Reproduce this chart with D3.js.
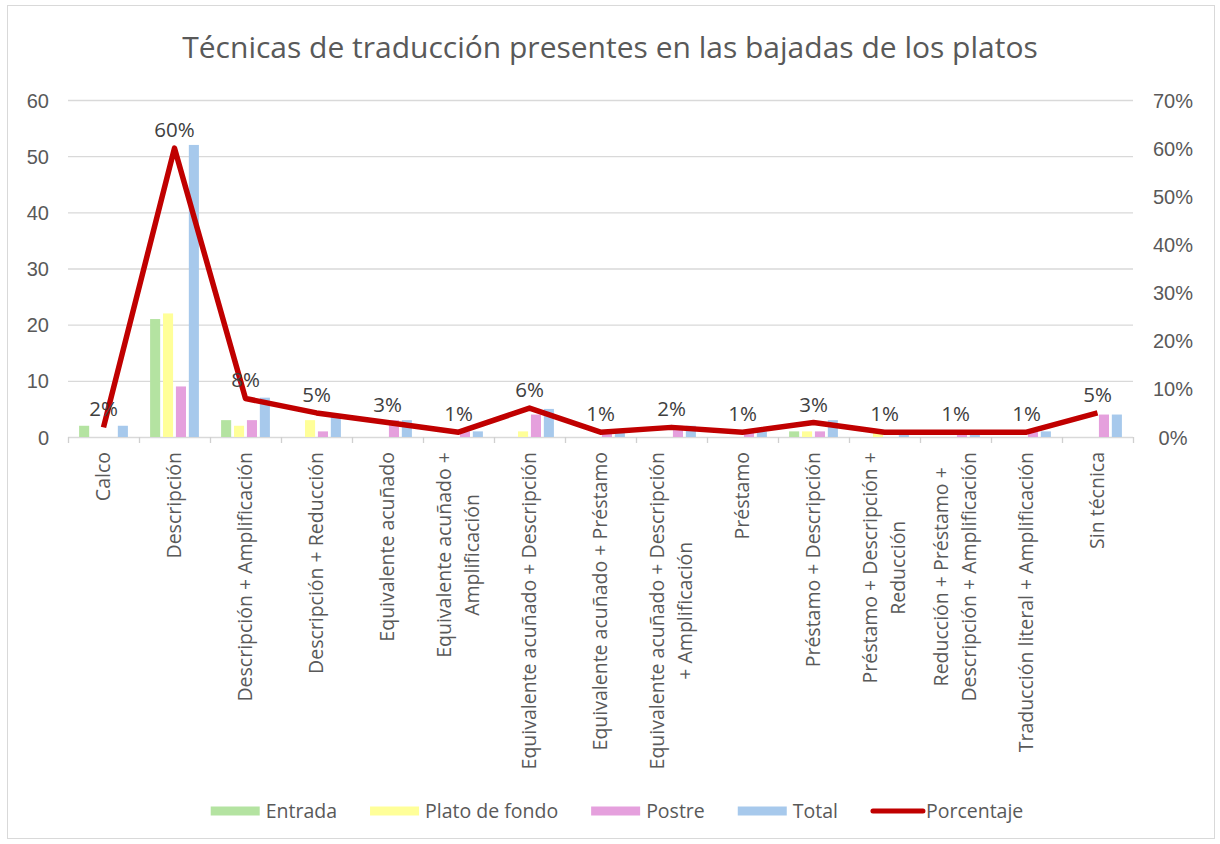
<!DOCTYPE html>
<html>
<head>
<meta charset="utf-8">
<script src="https://cdn.jsdelivr.net/npm/d3@7"></script>
<style>
  body { margin: 0; background: #fff; }
  svg { font-family: "Open Sans", sans-serif; }
  .axis text { fill: #595959; font-size: 20px; }
  .axis .domain { display: none; }
</style>
</head>
<body>
<svg id="chart"></svg>
<script>
// categories, each split in the lines it is written on
const categories = [
  ["Calco"],
  ["Descripción"],
  ["Descripción + Amplificación"],
  ["Descripción + Reducción"],
  ["Equivalente acuñado"],
  ["Equivalente acuñado +", "Amplificación"],
  ["Equivalente acuñado + Descripción"],
  ["Equivalente acuñado + Préstamo"],
  ["Equivalente acuñado + Descripción", "+ Amplificación"],
  ["Préstamo"],
  ["Préstamo + Descripción"],
  ["Préstamo + Descripción +", "Reducción"],
  ["Reducción + Préstamo +", "Descripción + Amplificación"],
  ["Traducción literal + Amplificación"],
  ["Sin técnica"]
]
const seriesNames = ["Entrada", "Plato de fondo", "Postre", "Total"]
const entrada = [2, 21, 3, 0, 0, 0, 0, 0, 0, 0, 1, 0, 0, 0, 0]
const platoDeFondo = [0, 22, 2, 3, 0, 0, 1, 0, 0, 0, 1, 1, 0, 0, 0]
const postre = [0, 9, 3, 1, 3, 1, 4, 1, 2, 1, 1, 0, 1, 1, 4]
const total = [2, 52, 7, 4, 3, 1, 5, 1, 2, 1, 3, 1, 1, 1, 4]
const porcentaje = [0.02, 0.60, 0.08, 0.05, 0.03, 0.01, 0.06, 0.01, 0.02, 0.01, 0.03, 0.01, 0.01, 0.01, 0.05]
const lineName = "Porcentaje"
const leftTicks = [0, 10, 20, 30, 40, 50, 60]
const rightTicks = [0, 0.1, 0.2, 0.3, 0.4, 0.5, 0.6, 0.7]
const title = "Técnicas de traducción presentes en las bajadas de los platos"

const colors = ["#b4e3a1", "#ffff99", "#e5a0dd", "#a7c9ec"]
const lineColor = "#c00000"

class ComboChart {
    constructor(_config) {
        this.config = {
            parentElement: _config.parentElement,
            containerWidth: _config.containerWidth || 1220,
            containerHeight: _config.containerHeight || 844,
            margin: {top: 100, right: 87, bottom: 407, left: 68}
        }
        this.initVis()
    }

    initVis() {
        let vis = this
        vis.width = vis.config.containerWidth - vis.config.margin.left - vis.config.margin.right
        vis.height = vis.config.containerHeight - vis.config.margin.top - vis.config.margin.bottom

        vis.svg = d3.select(vis.config.parentElement)
            .attr('width', vis.config.containerWidth)
            .attr('height', vis.config.containerHeight)

        // outer frame
        vis.svg.append('rect')
            .attr('x', 7.5).attr('y', 5.5)
            .attr('width', 1207).attr('height', 833)
            .attr('fill', 'none')
            .attr('stroke', '#d9d9d9')

        vis.svg.append('text')
            .attr('x', 610).attr('y', 58)
            .attr('text-anchor', 'middle')
            .attr('fill', '#595959')
            .style('font-size', '30px')
            .text(title)

        vis.chart = vis.svg.append('g')
            .attr('transform', `translate(${vis.config.margin.left},${vis.config.margin.top})`)

        vis.x0 = d3.scaleBand()
            .domain(d3.range(categories.length))
            .range([0, vis.width])
        vis.x1 = d3.scaleBand()
            .domain(seriesNames)
            .range([0, vis.x0.bandwidth()])
            .paddingInner(0.22)
            .paddingOuter(0.86)
        vis.xEdges = d3.scaleLinear()
            .domain([0, categories.length])
            .range([0, vis.width])
        vis.yLeft = d3.scaleLinear().domain([0, 60]).range([vis.height, 0])
        vis.yRight = d3.scaleLinear().domain([0, 0.7]).range([vis.height, 0])

        vis.renderVis()
    }

    renderVis() {
        let vis = this

        // gridlines
        vis.chart.append('g')
            .attr('class', 'grid')
            .call(d3.axisLeft(vis.yLeft).tickValues(leftTicks).tickSize(-vis.width).tickFormat(''))
            .call(g => g.select('.domain').remove())
            .selectAll('line').attr('stroke', '#d9d9d9').attr('stroke-width', 1.3)

        vis.chart.append('g')
            .attr('class', 'axis y-axis')
            .call(d3.axisLeft(vis.yLeft).tickValues(leftTicks).tickSize(0).tickPadding(19))
            .selectAll('text').attr('dy', '0.35em')

        vis.chart.append('g')
            .attr('class', 'axis y-axis-right')
            .attr('transform', `translate(${vis.width},0)`)
            .call(d3.axisRight(vis.yRight).tickValues(rightTicks).tickSize(0).tickFormat(d3.format('.0%')))
            .selectAll('text')
                .attr('x', 40)
                .attr('text-anchor', 'middle')
                .attr('dy', '0.35em')

        // bars
        const seriesValues = [entrada, platoDeFondo, postre, total]
        const groups = vis.chart.selectAll('.cat')
            .data(categories.map((c, i) => i))
            .join('g')
                .attr('class', 'cat')
                .attr('transform', i => `translate(${vis.x0(i)},0)`)
        groups.selectAll('rect')
            .data(i => seriesNames.map((s, k) => ({s: s, k: k, v: seriesValues[k][i]})))
            .join('rect')
                .attr('x', d => vis.x1(d.s))
                .attr('width', vis.x1.bandwidth())
                .attr('y', d => vis.yLeft(d.v))
                .attr('height', d => vis.height - vis.yLeft(d.v))
                .attr('fill', d => colors[d.k])

        // x axis with ticks between categories
        const xAxisG = vis.chart.append('g')
            .attr('class', 'axis x-axis')
            .attr('transform', `translate(0,${vis.height})`)
            .call(d3.axisBottom(vis.xEdges).ticks(categories.length).tickSize(6).tickFormat('').tickSizeOuter(0))
        xAxisG.select('.domain').style('display', null).attr('stroke', '#d0d0d0').attr('stroke-width', 1.3)
        xAxisG.selectAll('.tick line').attr('stroke', '#d0d0d0').attr('stroke-width', 1.3)

        // category labels, rotated
        const labelTop = vis.height + 15
        const lineGap = 28
        const catLabels = vis.chart.selectAll('.cat-label')
            .data(categories)
            .join('text')
                .attr('class', 'cat-label')
                .attr('fill', '#595959')
                .style('font-size', '19.5px')
                .attr('text-anchor', 'middle')
        catLabels.each(function(lines, i) {
            const t = d3.select(this)
            const cx = vis.x0(i) + vis.x0.bandwidth() / 2
            const spans = t.selectAll('tspan').data(lines).join('tspan').text(d => d)
            let maxW = 0
            spans.each(function() { maxW = Math.max(maxW, this.getComputedTextLength()) })
            const mid = labelTop + maxW / 2
            spans
                .attr('x', -mid)
                .attr('y', (d, j) => cx + (j - (lines.length - 1) / 2) * lineGap)
                .attr('dy', '0.35em')
            t.attr('transform', 'rotate(-90)')
        })

        // percentage line
        const cx = i => vis.x0(i) + vis.x0.bandwidth() / 2
        const line = d3.line()
            .x((d, i) => cx(i))
            .y(d => vis.yRight(d))
        vis.chart.append('path')
            .datum(porcentaje)
            .attr('d', line)
            .attr('fill', 'none')
            .attr('stroke', lineColor)
            .attr('stroke-width', 5.5)
            .attr('stroke-linejoin', 'round')

        vis.chart.selectAll('.pct-label')
            .data(porcentaje)
            .join('text')
                .attr('class', 'pct-label')
                .attr('x', (d, i) => cx(i))
                .attr('y', d => vis.yRight(d) - 11)
                .attr('text-anchor', 'middle')
                .attr('fill', '#404040')
                .style('font-size', '20.5px')
                .text(d => d3.format('.0%')(d))

        // legend
        const legendItems = seriesNames.map((s, k) => ({name: s, color: colors[k], type: 'bar'}))
            .concat([{name: lineName, color: lineColor, type: 'line'}])
        const legend = vis.svg.append('g').attr('class', 'legend')
        const items = legend.selectAll('g')
            .data(legendItems)
            .join('g')
        items.append('text')
            .attr('x', 55)
            .attr('y', 0)
            .attr('dy', '0.35em')
            .attr('fill', '#595959')
            .style('font-size', '19.5px')
            .text(d => d.name)
        items.each(function(d) {
            const g = d3.select(this)
            if (d.type === 'bar') {
                g.append('rect').attr('x', 0).attr('y', -4.5).attr('width', 49).attr('height', 9).attr('fill', d.color)
            } else {
                g.append('line').attr('x1', 2).attr('x2', 52).attr('y1', 0).attr('y2', 0)
                    .attr('stroke', d.color).attr('stroke-width', 5).attr('stroke-linecap', 'round')
            }
        })
        let pos = 0
        const widths = []
        items.each(function() {
            const w = 55 + d3.select(this).select('text').node().getComputedTextLength()
            widths.push(pos)
            pos += w + 33
        })
        const legendW = pos - 33
        items.attr('transform', (d, i) => `translate(${widths[i]},0)`)
        legend.attr('transform', `translate(${617 - legendW / 2},811)`)
    }
}

new ComboChart({parentElement: '#chart'})
</script>
</body>
</html>
